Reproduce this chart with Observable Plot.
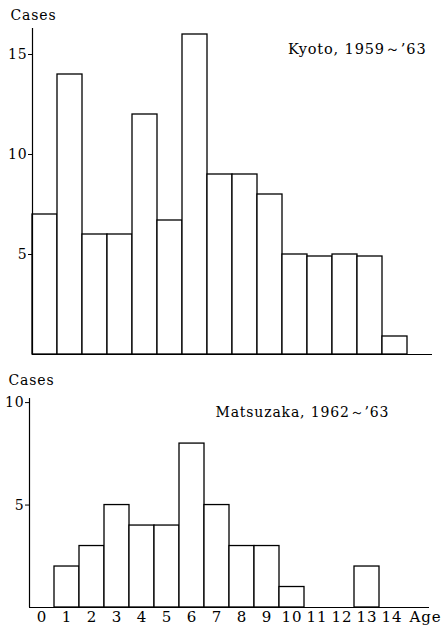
<!DOCTYPE html>
<html>
<head>
<meta charset="utf-8">
<script src="https://cdn.jsdelivr.net/npm/d3@7"></script>
<script src="https://cdn.jsdelivr.net/npm/@observablehq/plot@0.6"></script>
<style>
  html, body { margin: 0; padding: 0; background: white; }
  #chart { width: 441px; height: 631px; position: relative; }
  #chart svg { display: block; }
</style>
</head>
<body>
<div id="chart"></div>
<script>
const ages = [0, 1, 2, 3, 4, 5, 6, 7, 8, 9, 10, 11, 12, 13, 14];
const kyotoCases = [7, 14, 6, 6, 12, 6.7, 16, 9, 9, 8, 5, 4.9, 5, 4.9, 0.9];
const matsuzakaCases = [0, 2, 3, 5, 4, 4, 8, 5, 3, 3, 1, 0, 0, 2, 0];
const kyotoTicks = [5, 10, 15];
const matsuzakaTicks = [5, 10];
const kyotoTitle = "Kyoto, 1959\uFF5E\u201963";
const matsuzakaTitle = "Matsuzaka, 1962\uFF5E\u201963";
const yLabel = "Cases";
const xLabel = "Age";

const kyoto = ages.map((a, i) => ({age: a, cases: kyotoCases[i]})).filter(d => d.cases > 0);
const matsuzaka = ages.map((a, i) => ({age: a, cases: matsuzakaCases[i]})).filter(d => d.cases > 0);

const font = {fontFamily: "'DejaVu Serif', 'Liberation Serif', serif", fontSize: "14px", color: "black", background: "white", overflow: "visible"};

const kyotoPlot = Plot.plot({
  width: 441, height: 370,
  marginTop: 28, marginBottom: 16, marginLeft: 32, marginRight: 9,
  style: font,
  x: {domain: [0, 16], axis: null},
  y: {domain: [0, 16.3], axis: null},
  marks: [
    Plot.rectY(kyoto, {x1: "age", x2: d => d.age + 1, y1: 0, y2: "cases", fill: "white", stroke: "black", strokeWidth: 1.3}),
    Plot.ruleY([0], {stroke: "black", strokeWidth: 1.2}),
    Plot.ruleX([0], {stroke: "black", strokeWidth: 1.2}),
    Plot.axisY(kyotoTicks, {label: null, tickSize: 4, tickPadding: 1, fontSize: 14, tickFormat: d => String(d)}),
    Plot.text([yLabel], {text: d => d, frameAnchor: "top-left", textAnchor: "start", lineAnchor: "middle", dx: -22, dy: -13, fontSize: 14}),
    Plot.text([kyotoTitle], {text: d => d, frameAnchor: "top-right", textAnchor: "end", lineAnchor: "middle", dx: -6, dy: 21, fontSize: 14.5})
  ]
});

const matsuzakaPlot = Plot.plot({
  width: 441, height: 261,
  marginTop: 28, marginBottom: 24, marginLeft: 29, marginRight: 12,
  style: font,
  x: {domain: [0, 16], axis: null},
  y: {domain: [0, 10.2], axis: null},
  marks: [
    Plot.rectY(matsuzaka, {x1: "age", x2: d => d.age + 1, y1: 0, y2: "cases", fill: "white", stroke: "black", strokeWidth: 1.3}),
    Plot.ruleY([0], {stroke: "black", strokeWidth: 1.2}),
    Plot.ruleX([0], {stroke: "black", strokeWidth: 1.2}),
    Plot.axisY(matsuzakaTicks, {label: null, tickSize: 4, tickPadding: 1, fontSize: 14, tickFormat: d => String(d)}),
    Plot.axisX(ages.map(a => a + 0.5), {label: null, tickSize: 0, tickPadding: 4, fontSize: 15, tickFormat: d => String(d - 0.5)}),
    Plot.text([xLabel], {text: d => d, frameAnchor: "bottom-right", textAnchor: "end", lineAnchor: "middle", dx: 12, dy: 10, fontSize: 15}),
    Plot.text([yLabel], {text: d => d, frameAnchor: "top-left", textAnchor: "start", lineAnchor: "middle", dx: -21, dy: -18, fontSize: 14}),
    Plot.text([matsuzakaTitle], {text: d => d, frameAnchor: "top-left", textAnchor: "start", lineAnchor: "middle", dx: 186, dy: 14, fontSize: 14})
  ]
});

const chart = document.getElementById("chart");
chart.appendChild(kyotoPlot);
chart.appendChild(matsuzakaPlot);
chart.querySelectorAll("svg text").forEach(t => { t.style.letterSpacing = "0.06em"; });
</script>
</body>
</html>
